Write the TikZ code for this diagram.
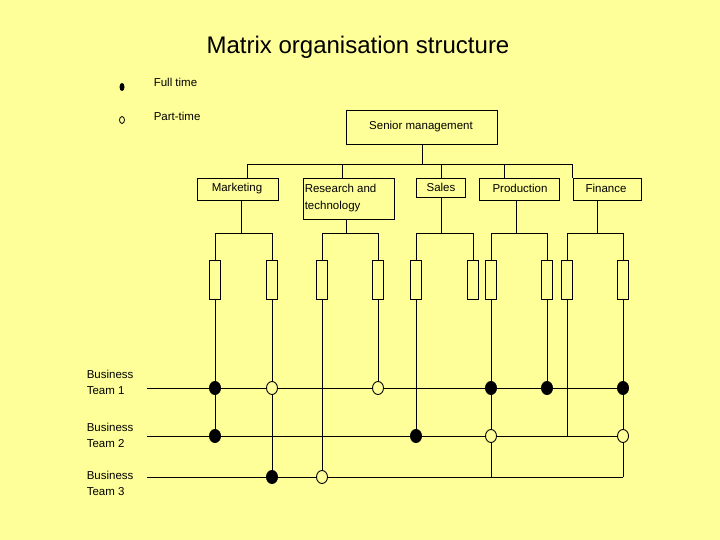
\documentclass[tikz,border=0pt]{standalone}
\usepackage{fontspec}
\setmainfont{Liberation Sans}
\usetikzlibrary{shapes.geometric}
\definecolor{bg}{RGB}{255,255,153}
\begin{document}
\begin{tikzpicture}[x=1pt,y=-1pt,line width=0.9pt,
  dept/.style={draw,rectangle,inner sep=0pt,anchor=north west},
  tx/.style={font=\fontsize{11.5}{14}\selectfont},
  res/.style={draw,rectangle,minimum width=11pt,minimum height=39pt,inner sep=0pt,anchor=north},
  full/.style={fill=black,ellipse,minimum width=12pt,minimum height=14pt,inner sep=0pt},
  part/.style={draw,fill=bg,ellipse,minimum width=11pt,minimum height=13pt,inner sep=0pt},
  lbl/.style={anchor=west,font=\fontsize{11.5}{16}\selectfont,align=left}]
\fill[bg] (0,0) rectangle (720,540);
\useasboundingbox (0,0) rectangle (720,540);
\node (title) at (358,47) {\fontsize{24}{28}\selectfont Matrix organisation structure};
\node[fill=black,ellipse,minimum width=5pt,minimum height=8pt,inner sep=0pt] (lf) at (122,87) {};
\node[draw,ellipse,minimum width=5pt,minimum height=7pt,inner sep=0pt,line width=0.8pt] (lp) at (122,120) {};
\node[lbl] (tf) at (150,82) {Full time};
\node[lbl] (tp) at (150,116) {Part-time};
% senior
\node[dept,minimum width=151pt,minimum height=34pt] (sm) at (346,110) {};
\node[tx] at (421,127) {Senior management};
\node[dept,minimum width=81pt,minimum height=22pt] (mk) at (197,178) {};
\node[tx] at (237,189) {Marketing};
\node[dept,minimum width=91pt,minimum height=41pt] (rt) at (303,178) {};
\node[lbl,font=\fontsize{11.5}{17}\selectfont] at (301,198) {Research and\\technology};
\node[dept,minimum width=49pt,minimum height=19pt] (sa) at (416,178) {};
\node[tx] at (441,187) {Sales};
\node[dept,minimum width=80pt,minimum height=22pt] (pr) at (479,178) {};
\node[tx] at (520,188) {Production};
\node[dept,minimum width=68pt,minimum height=22pt] (fi) at (573,178) {};
\node[tx] at (606,188) {Finance};
% tree
\coordinate (bus) at (421,164);
\draw (sm.south) -- (sm.south |- bus);
\draw (247,178) |- (572,164) -- (572,178);
\draw (342,164) -- (342,178);
\draw (441,164) -- (441,178);
\draw (504,164) -- (504,178);
% columns
\foreach \n/\x in {a/215,b/272,c/322,d/378,e/416,f/473,g/491,h/547,i/567,j/623}
  \node[res] (\n) at (\x,260) {};
\draw (241,200) -- (241,233); \draw (a.north) |- (b.north |- 0,233) -- (b.north);
\draw (346,219) -- (346,233); \draw (c.north) |- (d.north |- 0,233) -- (d.north);
\draw (441,197) -- (441,233); \draw (e.north) |- (f.north |- 0,233) -- (f.north);
\draw (516,200) -- (516,233); \draw (g.north) |- (h.north |- 0,233) -- (h.north);
\draw (597,200) -- (597,233); \draw (i.north) |- (j.north |- 0,233) -- (j.north);
% teams
\node[lbl] (t1) at (83,382) {Business\\Team 1};
\node[lbl] (t2) at (83,435) {Business\\Team 2};
\node[lbl] (t3) at (83,483) {Business\\Team 3};
\draw (147,388) -- (623,388);
\draw (147,436) -- (623,436);
\draw (147,477) -- (623,477);
\draw (a.south) -- (215,436);
\draw (b.south) -- (272,477);
\draw (c.south) -- (322,477);
\draw (d.south) -- (378,388);
\draw (e.south) -- (416,436);
\draw (g.south) -- (491,477);
\draw (h.south) -- (547,388);
\draw (i.south) -- (567,436);
\draw (j.south) -- (623,477);
% dots
\node[full] (d1) at (215,388) {};
\node[full] (d2) at (215,436) {};
\node[part] (d3) at (272,388) {};
\node[full] (d4) at (272,477) {};
\node[part] (d5) at (322,477) {};
\node[part] (d6) at (378,388) {};
\node[full] (d7) at (416,436) {};
\node[full] (d8) at (491,388) {};
\node[part] (d9) at (491,436) {};
\node[full] (d10) at (547,388) {};
\node[full] (d11) at (623,388) {};
\node[part] (d12) at (623,436) {};
\end{tikzpicture}
\end{document}
